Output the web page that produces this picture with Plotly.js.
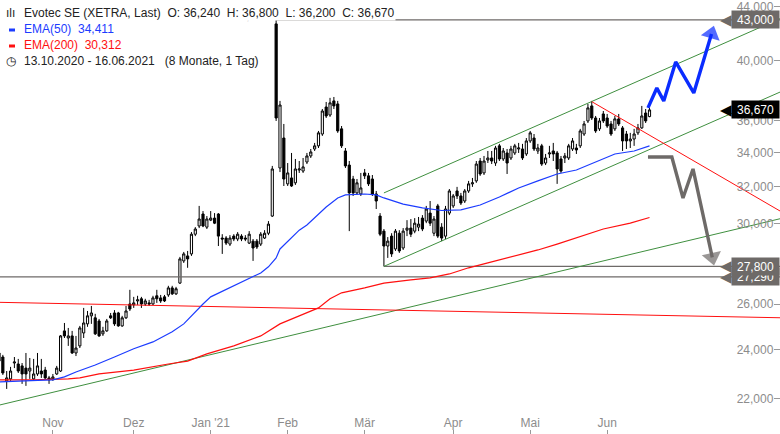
<!DOCTYPE html>
<html>
<head>
<meta charset="utf-8">
<script src="https://cdn.plot.ly/plotly-3.0.1.min.js"></script>
<style>
  html, body { margin: 0; padding: 0; background: #fff; }
  #chart { width: 780px; height: 434px; }
</style>
</head>
<body>
<div id="chart"></div>
<script>
// Evotec SE (XETRA), daily candles 13.10.2020 - 16.06.2021, x = trading day index

const openPx = [
  23.85, 23.68, 22.70, 22.78, 23.43, 23.39, 23.31, 23.22, 23.10, 22.78,
  22.98, 23.10, 23.14, 22.82, 22.78, 22.98, 23.10, 24.80, 24.49, 24.58,
  23.85, 24.15, 24.71, 25.11, 25.47, 25.38, 25.24, 24.67, 24.80, 25.47,
  25.60, 25.60, 25.02, 25.38, 26.01, 25.97, 26.15, 26.25, 26.01, 26.06,
  26.01, 26.39, 26.29, 26.34, 26.43, 26.76, 26.48, 26.99, 28.07, 28.32,
  28.42, 29.43, 29.86, 30.50, 29.80, 30.17, 30.28, 30.50, 29.23, 29.23,
  28.92, 29.33, 29.18, 29.33, 29.23, 28.97, 29.07, 29.07, 28.92, 29.23,
  29.48, 30.39, 42.70, 33.09, 34.89, 32.17, 32.51, 32.23, 32.97, 32.91,
  33.44, 33.80, 34.22, 34.41, 35.14, 36.86, 36.34, 37.26, 37.06, 35.46,
  34.10, 33.26, 32.45, 31.66, 31.60, 32.80, 32.63, 32.45, 31.60, 30.39,
  29.59, 28.82, 29.33, 28.67, 29.48, 28.72, 29.64, 29.75, 29.59, 29.80,
  30.28, 30.12, 30.55, 29.48, 30.94, 29.80, 29.33, 30.55, 30.94, 31.77,
  31.49, 31.21, 31.77, 32.17, 32.34, 33.50, 32.80, 33.56, 33.68, 33.38,
  34.41, 33.62, 33.98, 33.68, 33.98, 34.22, 34.22, 33.92, 34.71, 34.89,
  34.10, 34.41, 33.38, 33.92, 34.10, 33.98, 33.62, 33.68, 33.68, 34.22,
  34.28, 34.41, 35.14, 35.96, 36.93, 36.15, 35.46, 36.41, 36.15, 35.77,
  35.46, 36.09, 35.52, 35.14, 34.71, 34.83, 35.21, 35.52, 36.47, 36.24
];
const highPx = [
  24.03, 23.77, 23.10, 23.27, 23.68, 23.60, 23.43, 23.85, 23.64, 23.60,
  23.85, 23.60, 23.27, 22.90, 22.98, 23.31, 24.62, 25.15, 24.93, 24.80,
  24.58, 25.02, 25.83, 25.69, 25.92, 25.56, 25.33, 24.98, 25.33, 25.60,
  25.73, 25.65, 25.47, 25.92, 26.67, 26.34, 26.39, 26.34, 26.25, 26.20,
  26.39, 26.67, 26.43, 26.43, 26.86, 26.86, 26.81, 28.27, 28.52, 28.57,
  29.54, 29.80, 30.94, 30.66, 30.39, 30.66, 30.55, 30.55, 29.43, 29.33,
  29.38, 29.43, 29.54, 29.43, 29.38, 29.59, 29.18, 29.18, 29.54, 29.64,
  30.12, 33.21, 43.00, 37.26, 35.77, 33.38, 33.98, 33.62, 33.50, 33.68,
  33.98, 34.22, 34.59, 35.33, 36.73, 37.19, 37.46, 37.52, 37.26, 35.64,
  34.28, 33.50, 32.63, 32.45, 32.80, 33.03, 32.80, 32.68, 31.77, 30.55,
  29.70, 29.28, 29.48, 29.70, 29.64, 29.75, 30.17, 30.23, 30.28, 30.34,
  30.44, 30.94, 31.21, 30.39, 31.05, 30.01, 30.94, 31.88, 31.60, 32.00,
  31.66, 31.88, 32.34, 32.51, 33.50, 33.68, 33.80, 34.10, 34.10, 34.41,
  34.53, 34.28, 34.22, 34.41, 34.53, 34.59, 34.53, 34.89, 35.33, 35.14,
  34.53, 34.53, 33.92, 34.41, 34.59, 34.10, 33.80, 33.98, 34.53, 34.89,
  34.53, 35.46, 35.96, 37.06, 37.26, 36.28, 36.15, 36.60, 36.41, 35.96,
  36.28, 36.41, 35.64, 35.33, 35.21, 35.46, 35.77, 36.93, 36.73, 36.80
];
const lowPx = [
  23.43, 22.94, 22.38, 22.70, 23.22, 23.02, 22.58, 22.50, 22.78, 22.70,
  22.90, 22.82, 22.74, 22.58, 22.70, 22.94, 23.06, 24.49, 24.15, 23.81,
  23.72, 24.06, 24.49, 24.98, 25.11, 24.62, 24.54, 24.58, 24.76, 25.33,
  25.02, 24.98, 24.98, 25.33, 25.69, 25.83, 25.97, 25.83, 25.92, 25.92,
  25.97, 26.06, 26.06, 26.10, 26.34, 26.43, 26.43, 26.95, 27.97, 27.73,
  28.32, 29.33, 29.75, 29.80, 29.70, 30.12, 29.96, 28.82, 28.42, 28.87,
  28.82, 29.07, 29.07, 29.07, 29.07, 28.92, 28.07, 28.67, 28.82, 29.18,
  29.38, 30.34, 35.96, 32.85, 32.05, 32.05, 32.00, 32.11, 32.80, 32.80,
  33.32, 33.68, 34.10, 34.28, 35.02, 36.15, 36.22, 36.73, 35.21, 34.28,
  33.09, 29.59, 31.49, 31.55, 31.49, 32.45, 32.05, 31.49, 30.77, 29.33,
  27.80, 28.22, 28.27, 28.57, 28.47, 28.62, 29.33, 29.28, 29.48, 29.59,
  29.59, 30.01, 29.86, 29.33, 29.23, 29.07, 29.18, 30.44, 30.83, 31.32,
  30.99, 31.10, 31.66, 32.00, 32.23, 32.63, 32.68, 33.38, 33.32, 33.21,
  33.50, 33.50, 32.74, 33.56, 33.86, 33.98, 33.56, 33.80, 34.59, 34.10,
  33.92, 33.21, 33.26, 33.68, 33.50, 32.17, 32.80, 33.38, 33.56, 34.10,
  33.92, 34.28, 35.02, 35.83, 36.02, 35.21, 35.33, 35.83, 35.52, 35.02,
  35.33, 35.64, 34.10, 34.22, 34.28, 34.41, 35.08, 35.46, 35.83, 36.20
];
const closePx = [
  23.51, 23.02, 22.82, 23.10, 23.47, 23.10, 22.98, 22.98, 23.22, 22.98,
  23.31, 22.98, 22.82, 22.74, 22.86, 23.22, 24.58, 24.58, 24.58, 23.85,
  24.06, 24.93, 25.15, 25.47, 25.60, 24.67, 24.58, 24.80, 25.24, 25.38,
  25.11, 25.02, 25.38, 25.69, 25.78, 26.06, 26.20, 26.01, 26.15, 26.01,
  26.29, 26.25, 26.15, 26.15, 26.76, 26.48, 26.72, 28.17, 28.42, 28.17,
  29.43, 29.70, 30.23, 29.86, 30.23, 30.28, 30.01, 29.33, 29.18, 28.97,
  29.23, 29.18, 29.43, 29.18, 29.18, 29.43, 28.72, 28.77, 29.43, 29.48,
  29.96, 33.03, 36.15, 36.99, 32.45, 32.80, 32.05, 33.03, 33.03, 33.15,
  33.80, 34.04, 34.41, 35.21, 36.60, 36.28, 37.13, 36.93, 35.33, 34.41,
  33.21, 31.66, 31.66, 32.23, 31.94, 32.63, 32.17, 31.60, 31.21, 29.43,
  28.82, 29.07, 28.42, 29.59, 28.57, 29.59, 29.75, 29.43, 30.01, 29.96,
  29.70, 30.77, 30.01, 30.23, 29.33, 29.23, 30.77, 31.77, 31.49, 31.49,
  31.10, 31.77, 32.17, 32.23, 33.32, 32.74, 33.50, 33.68, 33.50, 34.28,
  33.62, 34.10, 33.38, 34.22, 34.41, 34.28, 33.68, 34.71, 35.21, 34.22,
  34.28, 33.32, 33.68, 33.98, 33.92, 33.03, 32.91, 33.80, 34.41, 34.71,
  34.16, 35.33, 35.77, 36.80, 36.15, 35.33, 35.96, 35.96, 35.64, 35.14,
  36.09, 35.77, 34.71, 34.71, 34.83, 35.14, 35.52, 36.28, 35.96, 36.67
];

// moving averages (index, value)
const ema50Idx = [0, 5, 10, 14, 17, 20, 25, 30, 35, 40, 45, 48, 50, 53, 55, 60, 65, 68, 70, 72, 73, 75, 78, 80,
  83, 85, 88, 90, 95, 98, 100, 105, 110, 115, 120, 125, 130, 135, 140, 145, 150, 155, 160, 165, 169];
const ema50 = [22.66, 22.70, 22.72, 22.74, 22.86, 23.06, 23.35, 23.68, 24.03, 24.32, 24.76, 25.11, 25.47, 26.01,
  26.34, 26.76, 27.19, 27.48, 27.78, 28.22, 28.67, 29.07, 29.64, 29.91, 30.50, 30.88, 31.38, 31.55, 31.60, 31.55,
  31.38, 31.04, 30.83, 30.69, 30.72, 30.99, 31.43, 31.94, 32.34, 32.74, 32.97, 33.44, 33.92, 34.10, 34.411];
const ema200Idx = [0, 9, 18, 21, 26, 35, 44, 49, 54, 61, 68, 70, 73, 78, 83, 86, 89, 95, 100, 107, 112, 117,
  122, 127, 133, 140, 145, 150, 157, 164, 169];
const ema200 = [22.74, 22.74, 22.78, 22.82, 22.98, 23.14, 23.39, 23.51, 23.81, 24.15, 24.58, 24.80, 25.11, 25.47,
  25.83, 26.25, 26.53, 26.76, 26.99, 27.14, 27.24, 27.43, 27.73, 27.97, 28.27, 28.62, 28.92, 29.23, 29.70, 30.01, 30.312];

// drawn trend lines and levels (start/end index, start/end price)
const supportX = [-1, 204], supportY = [21.71, 30.30];
const channelTopX = [100, 204], channelTopY = [31.66, 43.24];
const channelBotX = [100, 204], channelBotY = [27.80, 37.97];
const redLongX = [-1, 204], redLongY = [26.09, 25.38];
const redFallX = [154, 204], redFallY = [37.21, 30.53];
const level43X = [72, 204], level43Y = [43.0, 43.0];
const level278X = [100, 204], level278Y = [27.8, 27.8];
const level2729X = [-1, 204], level2729Y = [27.29, 27.29];

// scenario arrows
const bullX = [168.6, 170.9, 172.7, 175.8, 180.5, 185.1];
const bullY = [36.80, 38.12, 37.26, 39.92, 37.79, 41.95];
const bearX = [168.6, 174.8, 177.7, 180.3, 185.3];
const bearY = [33.74, 33.74, 31.38, 33.03, 28.25];

// axis ticks
const monthIdx = [14, 35, 55, 75, 95, 118, 138, 158];
const monthLabels = ['Nov', 'Dez', "Jan '21", 'Feb', 'Mär', 'Apr', 'Mai', 'Jun'];
const priceTicks = [22, 24, 26, 30, 32, 34, 36, 40, 44];

const dayIdx = closePx.map((_, i) => i);
const last = closePx.length - 1;
const fmt = v => v.toFixed(3).replace('.', ',');
const L10 = Math.log10;

const GREEN = '#3f8f3f', RED = '#ff1010', BLUE = '#1c3cff', GREY = '#6e6a68';
const FONT = 'Liberation Sans, Arial, sans-serif';

function seg(x, y, color, width) {
  return { type: 'scatter', mode: 'lines', x: x, y: y, hoverinfo: 'skip',
    line: { color: color, width: width || 1 } };
}

function arrow(x, y, color) {
  const sizes = x.map((_, i) => (i === x.length - 1 ? 17 : 0));
  return { type: 'scatter', mode: 'lines+markers', x: x, y: y, hoverinfo: 'skip',
    line: { color: color, width: 3.4 },
    marker: { symbol: 'triangle-up', angleref: 'previous', size: sizes, color: color, line: { width: 0 } } };
}

const traces = [
  seg(level2729X, level2729Y, GREY, 1.2),
  seg(level278X, level278Y, GREY, 1.2),
  seg(level43X, level43Y, GREY, 1.2),
  seg(supportX, supportY, GREEN),
  seg(channelTopX, channelTopY, GREEN),
  seg(channelBotX, channelBotY, GREEN),
  seg(redLongX, redLongY, RED),
  seg(redFallX, redFallY, RED),
  seg(ema200Idx, ema200, RED, 1.2),
  seg(ema50Idx, ema50, BLUE, 1.2),
  {
    type: 'candlestick', x: dayIdx, open: openPx, high: highPx, low: lowPx, close: closePx,
    whiskerwidth: 0, hoverinfo: 'skip',
    increasing: { line: { color: '#000', width: 1 }, fillcolor: '#fff' },
    decreasing: { line: { color: '#000', width: 1 }, fillcolor: '#000' }
  },
  arrow(bullX, bullY, '#0a2cff'),
  arrow(bearX, bearY, GREY)
];

function priceTag(v, bg) {
  return [
    { xref: 'paper', yref: 'y', x: 734 / 780, y: L10(v), xanchor: 'right', yanchor: 'middle',
      text: '◀', showarrow: false, font: { color: bg, size: 15, family: 'DejaVu Sans' } },
    { xref: 'paper', yref: 'y', x: 1, y: L10(v), xanchor: 'right', yanchor: 'middle',
      text: fmt(v), showarrow: false, bgcolor: bg, borderpad: 2, width: 43, height: 13,
      font: { color: '#fff', size: 12, family: FONT } }
  ];
}

function headerLine(py, text, color, px) {
  return { xref: 'paper', yref: 'paper', x: (px || 23) / 780, y: 1 - py / 434,
    xanchor: 'left', yanchor: 'middle', showarrow: false, text: text, bgcolor: '#fff', borderpad: 0,
    font: { color: color, size: 12, family: FONT } };
}

const sp = '\u00a0';
const annotations = [
  { xref: 'x', yref: 'y', x: 71, y: L10(43.3), xanchor: 'right', yanchor: 'middle', showarrow: false,
    text: fmt(highPx[72]), font: { color: '#c8c8c8', size: 12, family: FONT } },
  headerLine(13, 'Evotec SE (XETRA, Last)' + sp + sp + 'O: ' + fmt(openPx[last]) + sp + sp + 'H: ' +
    fmt(highPx[last]) + sp + sp + 'L: ' + fmt(lowPx[last]) + sp + sp + 'C: ' + fmt(closePx[last]), '#222'),
  headerLine(13, 'ılı', '#222', 5),
  headerLine(29, 'EMA(50)' + sp + sp + fmt(ema50[ema50.length - 1]), BLUE),
  headerLine(45, 'EMA(200)' + sp + sp + fmt(ema200[ema200.length - 1]), RED),
  headerLine(61, '13.10.2020 - 16.06.2021' + sp + sp + sp + '(8 Monate, 1 Tag)', '#222'),
  headerLine(61, '◷', '#222', 5)
].concat(priceTag(43.0, GREY), priceTag(27.29, GREY), priceTag(27.8, GREY),
  priceTag(closePx[last], '#000'));

const layout = {
  width: 780, height: 434,
  margin: { l: 0, r: 0, t: 0, b: 0, pad: 0 },
  paper_bgcolor: '#fff', plot_bgcolor: '#fff',
  separators: ',.',
  showlegend: false,
  font: { family: FONT, size: 12, color: '#888' },
  boxgap: 0.2,
  xaxis: {
    range: [0.26, 202.9], rangeslider: { visible: false },
    showgrid: false, zeroline: false, showline: false,
    tickmode: 'array', tickvals: monthIdx, ticktext: monthLabels,
    ticks: 'inside', ticklen: 4, tickcolor: '#999', ticklabelposition: 'inside',
    tickfont: { color: '#8c8c8c', size: 12 }
  },
  yaxis: {
    type: 'log', range: [1.3152, 1.6488], side: 'right',
    showgrid: false, zeroline: false, showline: false,
    tickmode: 'array', tickvals: priceTicks, tickformat: '.3f',
    ticks: 'inside', ticklen: 6, tickcolor: '#999', ticklabelposition: 'inside',
    tickfont: { color: '#8c8c8c', size: 12 }
  },
  shapes: [
    { type: 'line', xref: 'paper', yref: 'paper', x0: 9 / 780, x1: 15 / 780, y0: 1 - 30 / 434, y1: 1 - 30 / 434,
      line: { color: BLUE, width: 3 } },
    { type: 'line', xref: 'paper', yref: 'paper', x0: 9 / 780, x1: 15 / 780, y0: 1 - 46 / 434, y1: 1 - 46 / 434,
      line: { color: RED, width: 3 } }
  ],
  annotations: annotations
};

Plotly.newPlot('chart', traces, layout, { displayModeBar: false, staticPlot: true });
</script>
</body>
</html>
